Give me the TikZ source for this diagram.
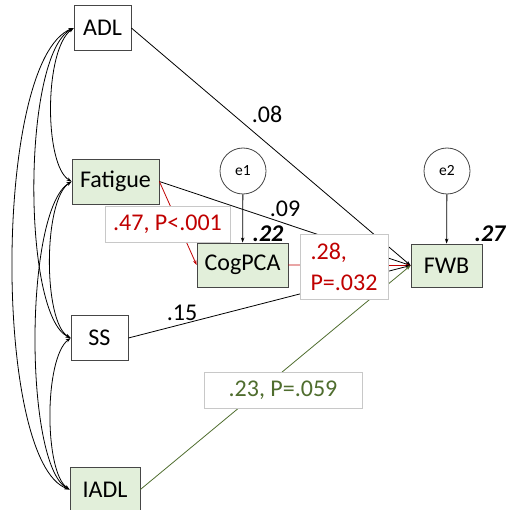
\documentclass[tikz,border=0pt]{standalone}
\usepackage{fontspec}
\setmainfont{Carlito}
\usetikzlibrary{arrows.meta}
\definecolor{boxgreen}{RGB}{226,239,218}
\definecolor{myred}{RGB}{192,0,0}
\definecolor{mygreen}{RGB}{79,109,46}
\definecolor{edgegray}{RGB}{70,70,70}
\definecolor{lblgray}{RGB}{200,200,200}
\begin{document}
\begin{tikzpicture}[x=1pt,y=-1pt,
  varbox/.style={draw=edgegray,line width=0.8pt,minimum width=#1,minimum height=45pt,inner sep=0pt,font=\fontsize{24}{28}\selectfont},
  varbox/.default=57pt,
  gbox/.style={varbox=#1,fill=boxgreen},
  err/.style={draw=edgegray,line width=0.8pt,circle,minimum size=46pt,inner sep=0pt,font=\fontsize{15.5}{18}\selectfont},
  tip/.style={-{Stealth[length=5pt,width=3.5pt]}},
  dtip/.style={{Stealth[length=5pt,width=3.5pt]}-{Stealth[length=5pt,width=3.5pt]}},
  path/.style={line width=0.8pt},
  coef/.style={font=\fontsize{24}{28}\selectfont,inner sep=0pt},
  rsq/.style={font=\fontsize{24}{28}\selectfont\bfseries\itshape,inner sep=0pt},
  lbl/.style={draw=lblgray,line width=0.7pt,fill=white,font=\fontsize{24}{28}\selectfont,inner sep=0pt}
]
\useasboundingbox (0,0) rectangle (506,510);
% nodes
\node[varbox=57pt] (ADL) at (102.5,28) {ADL};
\node[gbox=87pt] (Fat) at (115.5,181.5) {Fatigue};
\node[varbox=57pt] (SS) at (99.5,338) {SS};
\node[gbox=70pt] (IADL) at (105,489.5) {IADL};
\node[gbox=91pt,minimum height=44pt] (Cog) at (242.5,265) {CogPCA};
\node[gbox=71pt,minimum height=43pt] (FWB) at (446.5,265.5) {FWB};
\node[err] (e1) at (243,171) {e1};
\node[err] (e2) at (447,171) {e2};
% covariances
\draw[path,dtip] (ADL.west) .. controls (44,50) and (44,165) .. (Fat.west);
\draw[path,dtip] (ADL.west) .. controls (22,55) and (22,315) .. (SS.west);
\draw[path,dtip] (ADL.west) .. controls (-7,60) and (-7,462) .. (IADL.west);
\draw[path,dtip] (Fat.west) .. controls (43,200) and (43,322) .. (SS.west);
\draw[path,dtip] (Fat.west) .. controls (24,210) and (24,465) .. (IADL.west);
\draw[path,dtip] (SS.west) .. controls (44,358) and (44,472) .. (IADL.west);
% regressions
\draw[path,tip] (ADL.east) -- (FWB.west);
\draw[path,tip] (Fat.east) -- (FWB.west);
\draw[path,tip,myred] (Fat.east) -- (Cog.west);
\draw[path,tip,myred] (Cog.east) -- (FWB.west);
\draw[path,tip] (SS.east) -- (FWB.west);
\draw[path,tip,mygreen] (IADL.east) -- (FWB.west);
\draw[path,tip] (e1) -- (Cog);
\draw[path,tip] (e2) -- (FWB);
% labels
\node[coef] (l08) at (267,114) {.08};
\node[coef] (l09) at (285,209) {.09};
\node[coef] (l15) at (182,313) {.15};
\node[rsq] (r22) at (268,234) {.22};
\node[rsq] (r27) at (490,234) {.27};
\node[lbl,minimum width=125pt,minimum height=36pt,text=myred] (b47) at (167.5,224) {.47, P<.001};
\node[lbl,minimum width=88pt,minimum height=65pt,text=myred,align=left,font=\fontsize{24}{31}\selectfont] (b28) at (344,266.5) {.28,\\P=.032};
\node[lbl,minimum width=158pt,minimum height=36pt,text=mygreen] (b23) at (283,390) {.23, P=.059};
\end{tikzpicture}
\end{document}
